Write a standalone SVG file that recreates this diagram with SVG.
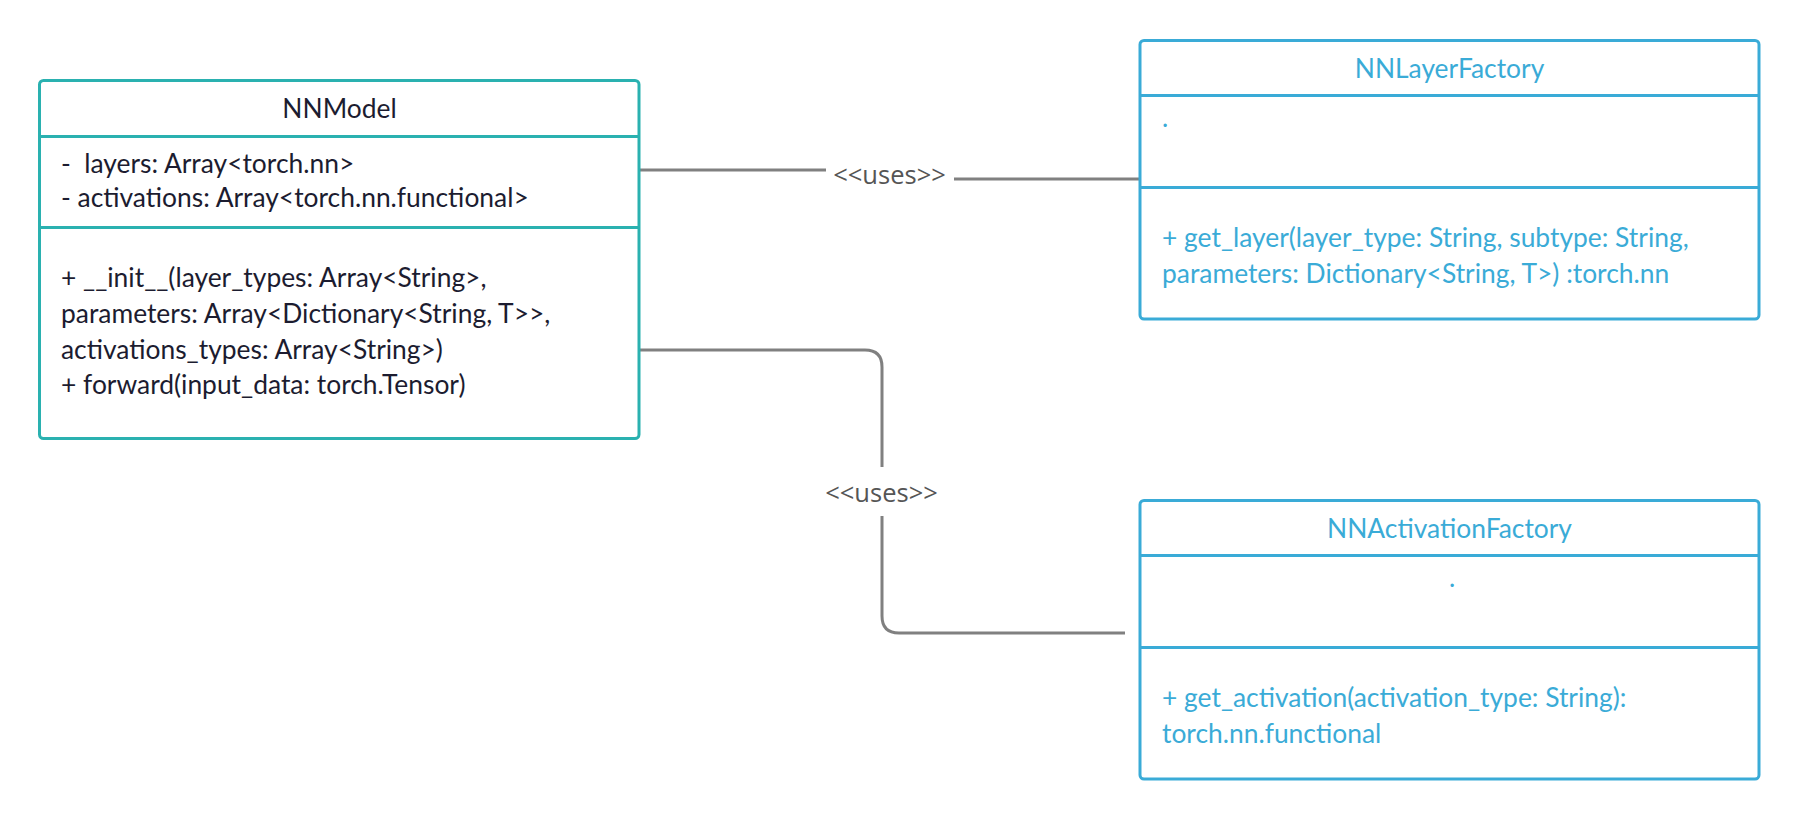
<svg xmlns="http://www.w3.org/2000/svg" width="1801" height="820" viewBox="0 0 1801 820">
<style>
.box{fill:#fff;stroke-width:3}
.teal{stroke:#2ab1b0}
.blue{stroke:#3aabd7}
.div{stroke-width:3}
.t{font-family:Lato,"Open Sans","Liberation Sans",sans-serif;font-size:26.4px}
.dark{fill:#1c1c30}
.bt{fill:#3aabd7}
.conn{fill:none;stroke:#808080;stroke-width:3}
.lbl{font-family:"Open Sans",Lato,"Liberation Sans",sans-serif;font-size:25.5px;fill:#555;text-anchor:middle}
</style>
<rect width="1801" height="820" fill="#fff"/>
<g id="connectors">
<line class="conn" x1="640" y1="170" x2="826" y2="170"/>
<line class="conn" x1="954" y1="179" x2="1140" y2="179"/>
<text class="lbl" x="889.5" y="184">&lt;&lt;uses&gt;&gt;</text>
<path class="conn" d="M640,350 H865 Q882,350 882,367 V467"/>
<path class="conn" d="M882,516 V616 Q882,633 899,633 H1125"/>
<text class="lbl" x="881.5" y="502">&lt;&lt;uses&gt;&gt;</text>
</g>
<g id="NNModel">
<rect class="box teal" x="39.5" y="80.5" width="599.5" height="358" rx="4"/>
<line class="div teal" x1="39.5" y1="136.5" x2="639" y2="136.5"/>
<line class="div teal" x1="39.5" y1="227.5" x2="639" y2="227.5"/>
<text class="t dark" x="339.5" y="118" text-anchor="middle">NNModel</text>
<text class="t dark" x="61" y="173" xml:space="preserve">-  layers: Array&lt;torch.nn&gt;</text>
<text class="t dark" x="61" y="207">- activations: Array&lt;torch.nn.functional&gt;</text>
<text class="t dark" x="61" y="287">+ __init__(layer_types: Array&lt;String&gt;,</text>
<text class="t dark" x="61" y="322.5">parameters: Array&lt;Dictionary&lt;String, T&gt;&gt;,</text>
<text class="t dark" x="61" y="358.5">activations_types: Array&lt;String&gt;)</text>
<text class="t dark" x="61" y="394">+ forward(input_data: torch.Tensor)</text>
</g>
<g id="NNLayerFactory">
<rect class="box blue" x="1140" y="40.5" width="619" height="278.5" rx="4"/>
<line class="div blue" x1="1140" y1="95.5" x2="1759" y2="95.5"/>
<line class="div blue" x1="1140" y1="187.5" x2="1759" y2="187.5"/>
<text class="t bt" x="1449.5" y="78" text-anchor="middle">NNLayerFactory</text>
<text class="t bt" x="1162" y="127">.</text>
<text class="t bt" x="1162" y="247">+ get_layer(layer_type: String, subtype: String,</text>
<text class="t bt" x="1162" y="282.5">parameters: Dictionary&lt;String, T&gt;) :torch.nn</text>
</g>
<g id="NNActivationFactory">
<rect class="box blue" x="1140" y="500.5" width="619" height="278.5" rx="4"/>
<line class="div blue" x1="1140" y1="555.5" x2="1759" y2="555.5"/>
<line class="div blue" x1="1140" y1="647.5" x2="1759" y2="647.5"/>
<text class="t bt" x="1449.5" y="538" text-anchor="middle">NNActivationFactory</text>
<text class="t bt" x="1452" y="587" text-anchor="middle">.</text>
<text class="t bt" x="1162" y="707">+ get_activation(activation_type: String):</text>
<text class="t bt" x="1162" y="742.5">torch.nn.functional</text>
</g>
</svg>
